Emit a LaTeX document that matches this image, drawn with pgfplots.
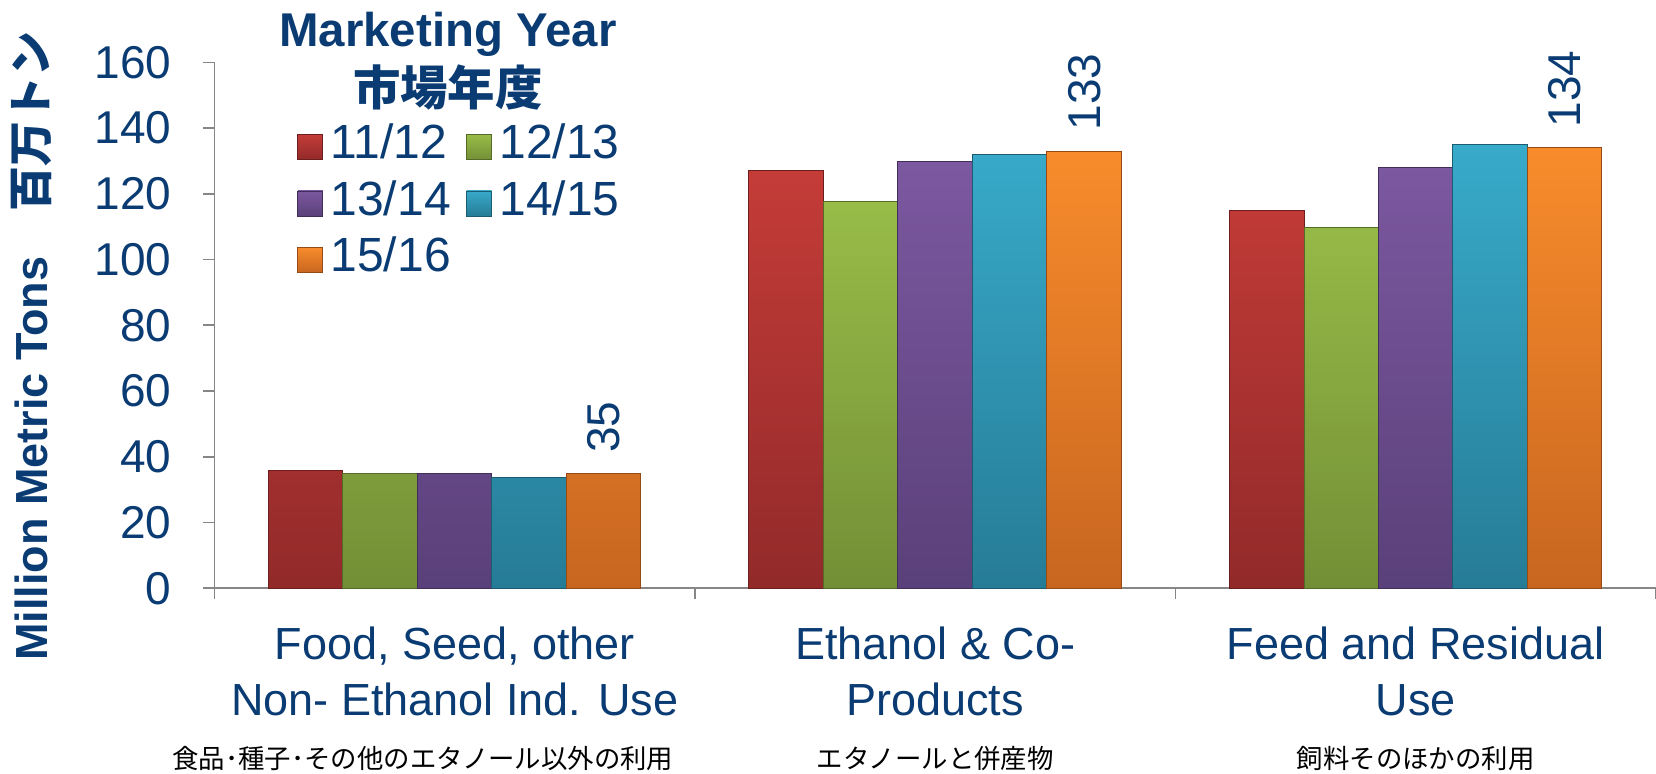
\documentclass[border=0pt]{standalone}
\usepackage{fontspec}
\setmainfont{Liberation Sans}
\newfontfamily\cjk{Noto Sans CJK JP}
\usepackage{pgfplots}
\pgfplotsset{compat=1.18}
\definecolor{dblue}{RGB}{10,60,115}
\definecolor{axgray}{RGB}{134,134,134}
\definecolor{rTop}{RGB}{196,60,56}\definecolor{rBot}{RGB}{146,42,42}\definecolor{rEdge}{RGB}{110,30,30}
\definecolor{gTop}{RGB}{152,188,72}\definecolor{gBot}{RGB}{115,143,54}\definecolor{gEdge}{RGB}{85,105,40}
\definecolor{pTop}{RGB}{124,88,160}\definecolor{pBot}{RGB}{90,64,122}\definecolor{pEdge}{RGB}{65,46,90}
\definecolor{cTop}{RGB}{56,170,202}\definecolor{cBot}{RGB}{38,124,150}\definecolor{cEdge}{RGB}{28,92,112}
\definecolor{oTop}{RGB}{248,140,44}\definecolor{oBot}{RGB}{200,102,32}\definecolor{oEdge}{RGB}{150,75,22}
\begin{document}
\begin{tikzpicture}
\useasboundingbox (-107.2pt,-92.5pt) rectangle (720.8pt,294.1pt);
\begin{axis}[
  at={(0,0)}, anchor=south west,
  scale only axis, width=720.8pt, height=262.95pt,
  ybar=0pt, bar width=0.155,
  xmin=-0.5, xmax=2.5, ymin=0, ymax=160,
  ytick={0,20,...,160},
  xtick={-0.5,0.5,1.5,2.5},
  x tick label as interval,
  xticklabels={{Food, Seed, other\\Non- Ethanol Ind. Use},{Ethanol \& Co-\\Products},{Feed and Residual\\Use}},
  axis x line=bottom, axis y line=left,
  axis line style={draw=axgray, line width=0.8pt, -},
  tick style={draw=axgray, line width=0.8pt},
  major tick length=5.5pt, tick align=outside,
  /pgf/number format/assume math mode=true,
  yticklabel style={font=\fontsize{23}{27}\selectfont, text=dblue},
  yticklabel shift=12.4pt,
  xticklabel style={font=\fontsize{22.5}{28}\selectfont, text=dblue, align=center, anchor=north},
  xticklabel shift=10.5pt,
  clip=false,
  legend columns=2,
  legend style={at={(rel axis cs:0.0573,0.893)}, anchor=north west, draw=none, fill=none,
    font=\fontsize{24}{28}\selectfont, text=dblue, inner sep=0pt, row sep=0pt,
    nodes={inner sep=2pt, text height=18pt, text depth=6.15pt},
    /tikz/every odd column/.append style={column sep=1.7pt},
    /tikz/every even column/.append style={column sep=5.7pt}},
  legend cell align=left,
  legend image code/.code={\draw[#1, line width=0.4pt] (0pt,-6.25pt) rectangle (12.5pt,6.25pt);},
]
\addplot[top color=rTop, bottom color=rBot, draw=rEdge, line width=0.5pt] coordinates {(0,35.9) (1,127) (2,115)};
\addplot[top color=gTop, bottom color=gBot, draw=gEdge, line width=0.5pt] coordinates {(0,34.8) (1,117.8) (2,109.8)};
\addplot[top color=pTop, bottom color=pBot, draw=pEdge, line width=0.5pt] coordinates {(0,34.8) (1,129.9) (2,127.9)};
\addplot[top color=cTop, bottom color=cBot, draw=cEdge, line width=0.5pt] coordinates {(0,33.7) (1,132) (2,134.9)};
\addplot[top color=oTop, bottom color=oBot, draw=oEdge, line width=0.5pt,
  nodes near coords, every node near coord/.append style={rotate=90, anchor=west, font=\fontsize{23}{27}\selectfont, text=dblue, inner xsep=10pt, inner ysep=0pt}]
  coordinates {(0,35) (1,133) (2,134)};
\legend{11/12,12/13,13/14,14/15,15/16}
\node[font=\fontsize{23.7}{28}\selectfont\bfseries, text=dblue] at (rel axis cs:0.162,1.054) {Marketing Year};
\node[font=\fontsize{23.7}{28}\selectfont\bfseries\cjk, text=dblue] at (rel axis cs:0.162,0.953) {市場年度};
\node[rotate=90, font=\fontsize{22.5}{26}\selectfont\bfseries, text=dblue] at (rel axis cs:-0.127,0.460) {Million Metric Tons\quad{\cjk\bfseries 百万トン}};
\node[font=\fontsize{13.2}{16}\selectfont\cjk, text=black] at (axis cs:-0.066,-51.7) {食品･種子･その他のエタノール以外の利用};
\node[font=\fontsize{13.2}{16}\selectfont\cjk, text=black] at (axis cs:1,-51.7) {エタノールと併産物};
\node[font=\fontsize{13.2}{16}\selectfont\cjk, text=black] at (axis cs:2,-51.7) {飼料そのほかの利用};
\end{axis}
\end{tikzpicture}
\end{document}
